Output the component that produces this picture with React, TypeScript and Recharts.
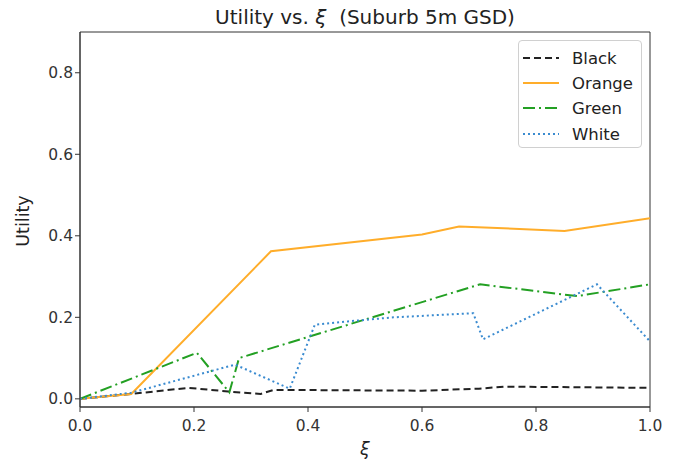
import React from 'react';
import { LineChart, Line, XAxis, YAxis, ReferenceArea } from 'recharts';

const blackX = [0, 0.09, 0.19, 0.26, 0.317, 0.34, 0.6, 0.7, 0.745, 1.0];
const blackY = [0, 0.012, 0.027, 0.018, 0.012, 0.022, 0.02, 0.025, 0.03, 0.027];
const orangeX = [0, 0.09, 0.335, 0.6, 0.665, 0.85, 1.0];
const orangeY = [0, 0.012, 0.362, 0.403, 0.423, 0.412, 0.443];
const greenX = [0, 0.205, 0.262, 0.279, 0.702, 0.872, 1.0];
const greenY = [0, 0.113, 0.016, 0.1, 0.281, 0.252, 0.281];
const whiteX = [0, 0.09, 0.272, 0.368, 0.412, 0.47, 0.55, 0.69, 0.707, 0.907, 1.0];
const whiteY = [0, 0.015, 0.084, 0.025, 0.182, 0.19, 0.2, 0.21, 0.146, 0.281, 0.141];

const xTicks = [0, 0.2, 0.4, 0.6, 0.8, 1.0];
const yTicks = [0, 0.2, 0.4, 0.6, 0.8];
const seriesNames = ['Black', 'Orange', 'Green', 'White'];

const toPts = (xs: number[], ys: number[]) => xs.map((x, i) => ({ x, y: ys[i] }));

const FONT = '"DejaVu Sans", sans-serif';
const colors = ['#222222', '#FFAD2A', '#23A023', '#3A8BD0'];
const dashes = ['7 4', undefined, '12 4 2 4', '2 3'];
const rowTops = [6, 31, 56, 82];

export default function App() {
  const series = [
    toPts(blackX, blackY),
    toPts(orangeX, orangeY),
    toPts(greenX, greenY),
    toPts(whiteX, whiteY),
  ];
  return (
    <div style={{ position: 'relative', width: 675, height: 456, fontFamily: FONT }}>
      <LineChart width={675} height={456} margin={{ top: 24, right: 33, bottom: 27, left: 22 }}>
        <XAxis
          dataKey="x"
          type="number"
          domain={[0, 1]}
          ticks={xTicks}
          tickFormatter={(v: number) => v.toFixed(1)}
          allowDataOverflow
          height={30}
          stroke="#333"
          tickSize={5}
          tick={{ fill: '#333', fontSize: 15.5, fontFamily: FONT, dy: 6 }}
        />
        <YAxis
          dataKey="y"
          type="number"
          domain={[-0.02, 0.9]}
          ticks={yTicks}
          tickFormatter={(v: number) => v.toFixed(1)}
          allowDataOverflow
          width={50}
          stroke="#333"
          tickSize={5}
          tick={{ fill: '#333', fontSize: 15.5, fontFamily: FONT }}
        />
        <ReferenceArea x1={0} x2={1} y1={-0.02} y2={0.9} fill="none" stroke="#333" strokeWidth={1} ifOverflow="visible" />
        {series.map((d, i) => (
          <Line
            key={seriesNames[i]}
            data={d}
            dataKey="y"
            name={seriesNames[i]}
            type="linear"
            stroke={colors[i]}
            strokeWidth={2}
            strokeDasharray={dashes[i]}
            dot={false}
            activeDot={false}
            isAnimationActive={false}
          />
        ))}
      </LineChart>
      <div style={{ position: 'absolute', left: 12, width: 690, top: -3, lineHeight: '24px', textAlign: 'center', fontSize: 20, color: '#222', whiteSpace: 'pre' }}>
        Utility vs. <i>ξ</i>{'  '}(Suburb 5m GSD)
      </div>
      <div style={{ position: 'absolute', left: 72, width: 570, top: 431, lineHeight: '20px', textAlign: 'center', fontSize: 17.5, color: '#222' }}>
        <i>ξ</i>
      </div>
      <div style={{ position: 'absolute', left: -25.5, top: 203, width: 80, height: 20, lineHeight: '20px', textAlign: 'center', fontSize: 17.5, color: '#222', transform: 'rotate(-90deg)' }}>
        Utility
      </div>
      <div style={{ position: 'absolute', left: 510, top: 32, width: 124, height: 108, border: '1px solid #d0d0d0', borderRadius: 4, background: 'rgba(255,255,255,0.85)', boxSizing: 'border-box' }}>
        {seriesNames.map((n, i) => (
          <div key={n} style={{ position: 'absolute', left: 0, top: rowTops[i], height: 22, display: 'flex', alignItems: 'center' }}>
            <svg width={49} height={10} style={{ marginLeft: 4 }}>
              <line x1={0} y1={5} x2={36} y2={5} stroke={colors[i]} strokeWidth={2} strokeDasharray={dashes[i]} />
            </svg>
            <span style={{ fontSize: 16.5, color: '#222' }}>{n}</span>
          </div>
        ))}
      </div>
    </div>
  );
}
